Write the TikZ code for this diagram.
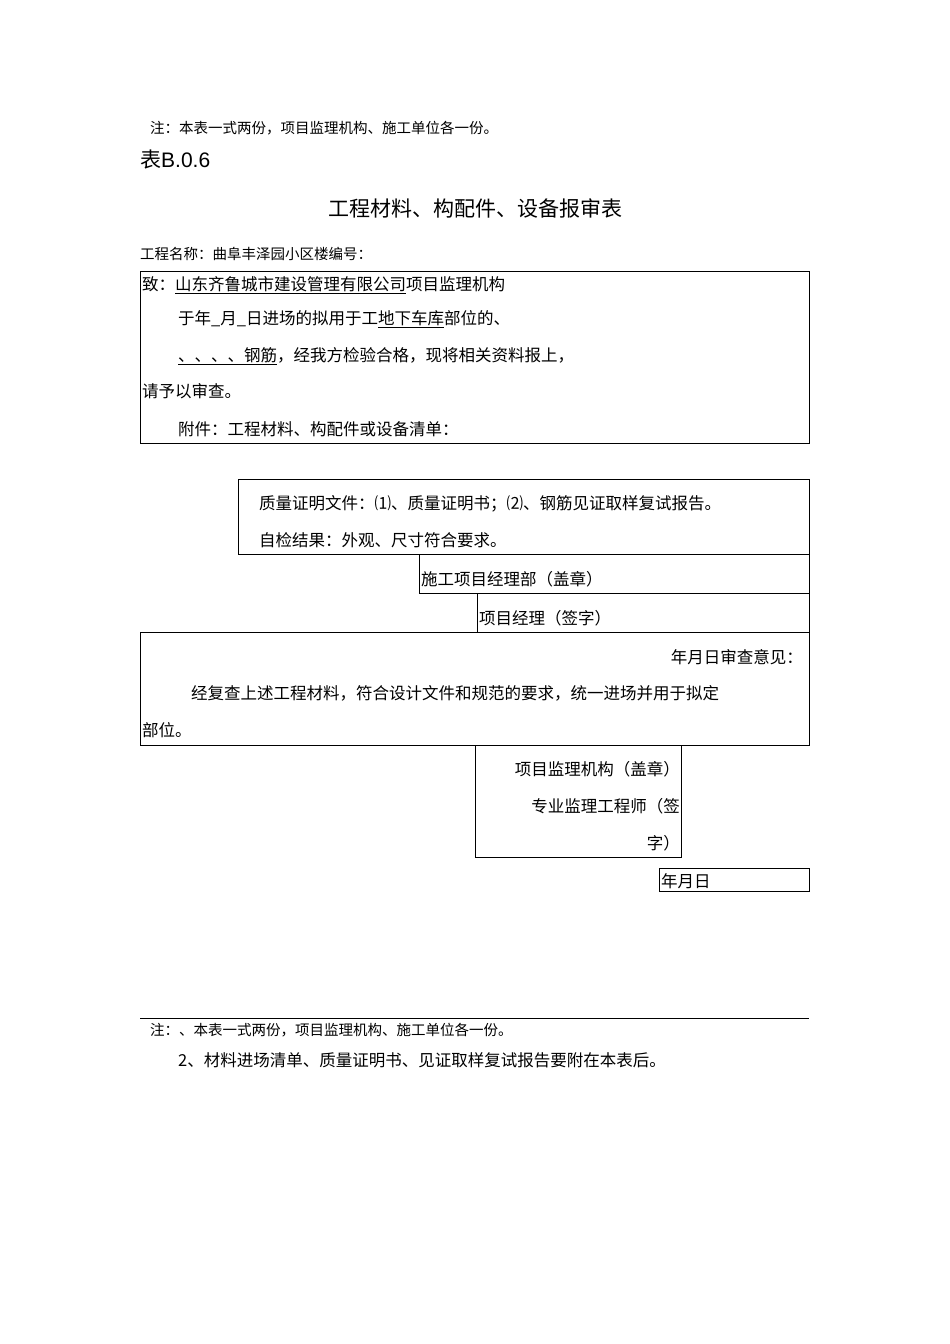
\documentclass[tikz,border=0pt]{standalone}
\usepackage{fontspec}
\setmainfont{Noto Sans CJK SC}
\newfontfamily\latinf{Liberation Sans}
\begin{document}
\begin{tikzpicture}[x=1pt,y=-1pt,
  t/.style={anchor=base west,inner sep=0pt,font=\fontsize{16.5}{18}\selectfont},
  ts/.style={anchor=base west,inner sep=0pt,font=\fontsize{14.5}{16}\selectfont},
  bx/.style={draw,line width=0.8pt}]
\useasboundingbox (0,0) rectangle (950,1344);
\node[ts] (n1) at (150,133) {注：本表一式两份，项目监理机构、施工单位各一份。};
\node[t,font=\fontsize{21}{24}\selectfont] (n2) at (140,167) {表{\latinf B.0.6}};
\node[anchor=base,inner sep=0pt,font=\fontsize{21}{24}\selectfont] (n3) at (475,216) {工程材料、构配件、设备报审表};
\node[ts] (n4) at (140,259) {工程名称：曲阜丰泽园小区楼编号：};
\draw[bx] (140,271) rectangle (809,443);
\node[t] (a1) at (142,290) {致：\underline{山东齐鲁城市建设管理有限公司}项目监理机构};
\node[t] (a2) at (178,324) {于年\_月\_日进场的拟用于工\underline{地下车库}部位的、};
\node[t] (a3) at (178,361) {\underline{、、、、钢筋}，经我方检验合格，现将相关资料报上，};
\node[t] (a4) at (142,397) {请予以审查。};
\node[t] (a5) at (178,435) {附件：工程材料、构配件或设备清单：};
\draw[bx] (238,479) rectangle (809,554);
\node[t] (b1) at (259,509) {质量证明文件：⑴、质量证明书；⑵、钢筋见证取样复试报告。};
\node[t] (b2) at (259,546) {自检结果：外观、尺寸符合要求。};
\draw[bx] (419,554) rectangle (809,593);
\node[t] (c1) at (421,585) {施工项目经理部（盖章）};
\draw[bx] (477,593) rectangle (809,632);
\node[t] (d1) at (479,624) {项目经理（签字）};
\draw[bx] (140,632) rectangle (809,745);
\node[t,anchor=base east] (e1) at (803,663) {年月日审查意见：};
\node[t] (e2) at (191,699) {经复查上述工程材料，符合设计文件和规范的要求，统一进场并用于拟定};
\node[t] (e3) at (142,736) {部位。};
\draw[bx] (475,745) rectangle (681,857);
\node[t,anchor=base east] (f1) at (680,775) {项目监理机构（盖章）};
\node[t,anchor=base east] (f2) at (680,812) {专业监理工程师（签};
\node[t,anchor=base east] (f3) at (680,849) {字）};
\draw[bx] (659,868) rectangle (809,891);
\node[t] (g1) at (661,887) {年月日};
\draw[line width=0.8pt] (140,1018) coordinate (l1) -- (809,1018) coordinate (l2);
\node[ts] (h1) at (150,1035) {注：、本表一式两份，项目监理机构、施工单位各一份。};
\node[t] (h2) at (178,1066) {2、材料进场清单、质量证明书、见证取样复试报告要附在本表后。};
\end{tikzpicture}
\end{document}
